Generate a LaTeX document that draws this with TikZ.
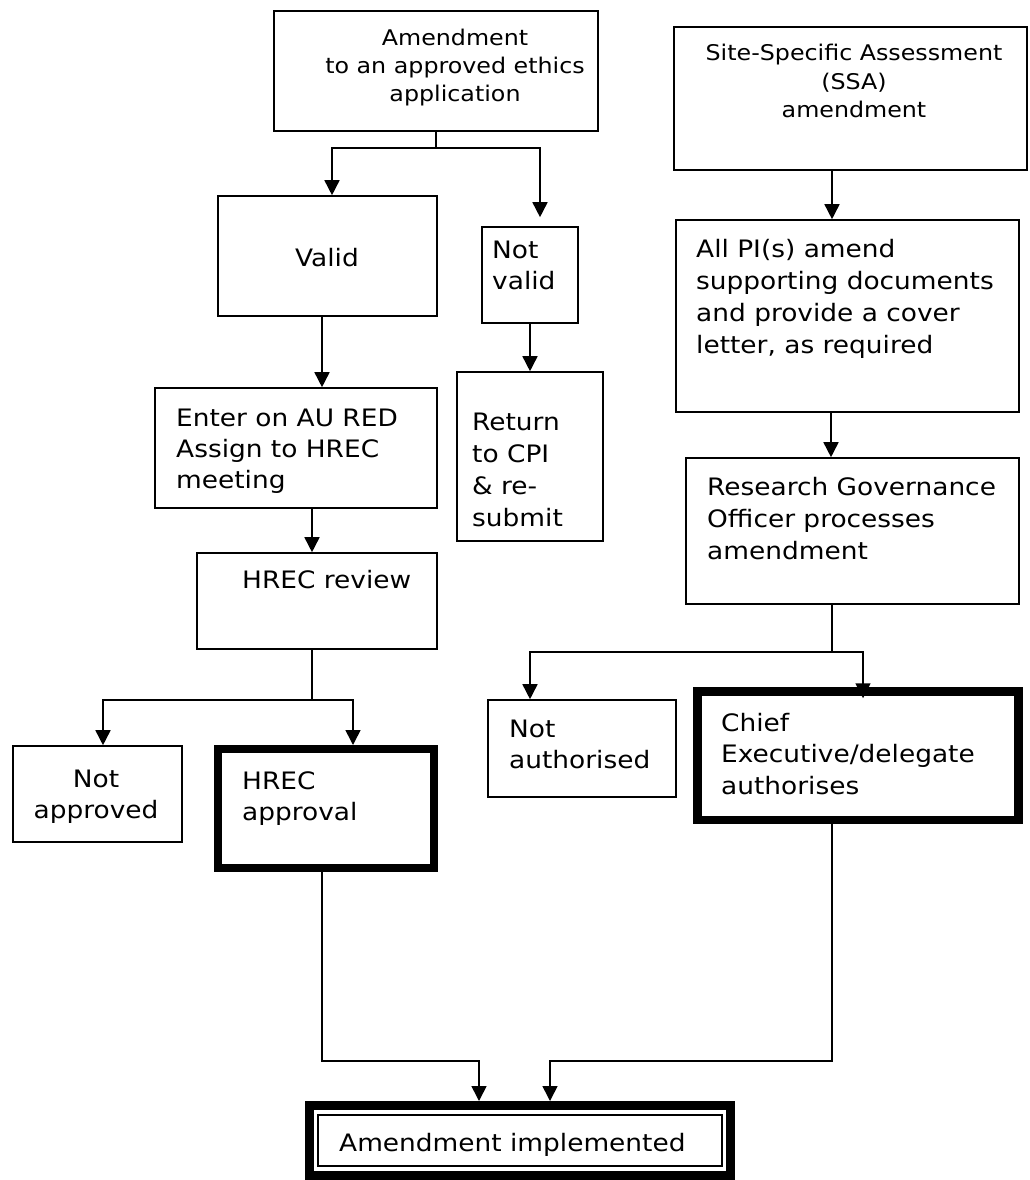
\documentclass[tikz,border=0pt]{standalone}
\usepackage{fontspec}
\setmainfont{DejaVu Sans}[FakeStretch=1.1]
\usetikzlibrary{arrows.meta}
\newcommand{\LeftLines}[2]{\vtop{\baselineskip=#1\halign{##\hfil\cr#2\crcr}}}
\newcommand{\MidLines}[2]{\vtop{\baselineskip=#1\halign{\hfil##\hfil\cr#2\crcr}}}
\begin{document}
\begin{tikzpicture}[x=1pt,y=-1pt,
  box/.style={draw, line width=1.6pt, inner sep=0pt},
  thickbox/.style={draw, line width=8.5pt, inner sep=0pt},
  arr/.style={-{Triangle[length=15pt,width=15pt]}, line width=1.6pt},
  link/.style={line width=1.6pt},
  lt/.style={inner sep=0pt, anchor=base west, font=\fontsize{24}{31.5}\selectfont},
  ct/.style={inner sep=0pt, anchor=base, font=\fontsize{24}{31.5}\selectfont},
  st/.style={inner sep=0pt, anchor=base, font=\fontsize{21.6}{28.5}\selectfont}]
\useasboundingbox (0,0) rectangle (1029,1180);

% boxes
\node[box, minimum width=324pt, minimum height=120pt] (amend) at (436,71) {};
\node[box, minimum width=353pt, minimum height=143pt] (ssa) at (850.5,98.5) {};
\node[box, minimum width=219pt, minimum height=120pt] (valid) at (327.5,256) {};
\node[box, minimum width=96pt, minimum height=96pt] (notvalid) at (530,275) {};
\node[box, minimum width=343pt, minimum height=192pt] (pis) at (847.5,316) {};
\node[box, minimum width=282pt, minimum height=120pt] (enter) at (296,448) {};
\node[box, minimum width=146pt, minimum height=169pt] (ret) at (530,456.5) {};
\node[box, minimum width=333pt, minimum height=146pt] (rgo) at (852.5,531) {};
\node[box, minimum width=240pt, minimum height=96pt] (review) at (317,601) {};
\node[box, minimum width=188pt, minimum height=97pt] (notauth) at (582,748.5) {};
\node[thickbox, minimum width=321pt, minimum height=128.5pt] (chief) at (858,755.75) {};
\node[box, minimum width=169pt, minimum height=96pt] (notappr) at (97.5,794) {};
\node[thickbox, line width=8pt, minimum width=216pt, minimum height=119pt] (approval) at (326,808.5) {};
\node[thickbox, line width=9pt, minimum width=421pt, minimum height=70pt] (impl) at (520,1140.5) {};
\draw[line width=1.5pt] ([shift={(13pt,-14pt)}]impl.north west) rectangle ([shift={(-13pt,14pt)}]impl.south east);

% texts
\node[st] (tamend) at (455,46) {\MidLines{28pt}{Amendment\cr to an approved ethics\cr application}};
\node[st] (tssa) at (854,61) {\MidLines{28.5pt}{Site-Specific Assessment\cr (SSA)\cr amendment}};
\node[ct] (tvalid) at (327,266) {Valid};
\node[lt] (tnv) at (492,258) {\LeftLines{31pt}{Not\cr valid}};
\node[lt] (tpis) at (696,257) {\LeftLines{32pt}{All PI(s) amend\cr supporting documents\cr and provide a cover\cr letter, as required}};
\node[lt] (tenter) at (176,426) {\LeftLines{31pt}{Enter on AU RED\cr Assign to HREC\cr meeting}};
\node[lt] (tret) at (472,430) {\LeftLines{32pt}{Return\cr to CPI\cr \& re-\cr submit}};
\node[lt] (trgo) at (707,495) {\LeftLines{32pt}{Research Governance\cr Officer processes\cr amendment}};
\node[lt] (treview) at (242,588) {HREC review};
\node[lt] (tnotauth) at (509,737) {\LeftLines{31pt}{Not\cr authorised}};
\node[lt] (tchief) at (721,731) {\LeftLines{31.5pt}{Chief\cr Executive/delegate\cr authorises}};
\node[ct] (tnotappr) at (96,787) {\MidLines{31pt}{Not\cr approved}};
\node[lt] (tappr) at (242,789) {\LeftLines{31pt}{HREC\cr approval}};
\node[lt] (timpl) at (339,1151) {Amendment implemented};

% connectors
\coordinate (j1) at (436,148);
\draw[link] (amend.south) -- (j1);
\draw[arr] (j1) -| ([xshift=4.5pt]valid.north);
\draw[arr, shorten >=9pt] (j1) -| ([xshift=10pt]notvalid.north);
\draw[arr] ([xshift=-5.5pt]valid.south) -- ([xshift=-5.5pt]valid.south |- enter.north);
\draw[arr] (notvalid.south) -- (ret.north);
\draw[arr] ([xshift=-5pt]review.north |- enter.south) -- ([xshift=-5pt]review.north);
\coordinate (j2) at (312,700);
\draw[link] ([xshift=-5pt]review.south) -- (j2);
\draw[arr] (j2) -| ([xshift=5.5pt]notappr.north);
\draw[arr] (j2) -| ([xshift=27pt]approval.north);
\draw[arr] ([xshift=-18.5pt]ssa.south) -- ([xshift=-18.5pt]ssa.south |- pis.north);
\draw[arr] ([xshift=-16.5pt]pis.south) -- ([xshift=-16.5pt]pis.south |- rgo.north);
\coordinate (j3) at (832,652);
\draw[link] ([xshift=-20.5pt]rgo.south) -- (j3);
\draw[arr] (j3) -| ([xshift=-52pt]notauth.north);
\draw[arr] (j3) -| ([xshift=5pt,yshift=-11pt]chief.north);
\coordinate (j4) at (322,1061);
\coordinate (j5) at (832,1061);
\draw[arr] ([xshift=-4pt]approval.south) -- (j4) -| ([xshift=-41pt]impl.north);
\draw[arr] ([xshift=-26pt]chief.south) -- (j5) -| ([xshift=30pt]impl.north);
\end{tikzpicture}
\end{document}
